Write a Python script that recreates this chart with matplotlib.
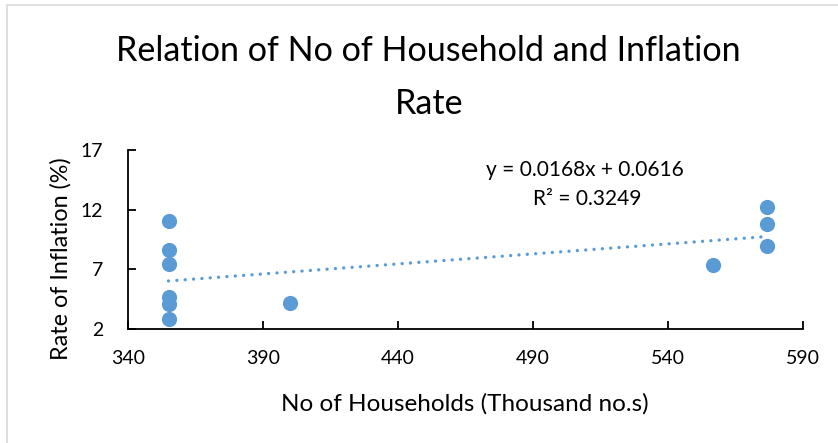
import numpy as np
import matplotlib
matplotlib.use("Agg")
import matplotlib.pyplot as plt
from matplotlib.patches import Rectangle

# values
households = [355, 355, 355, 355, 355, 355, 400, 556.5, 576.5, 576.5, 576.5]
inflation = [11.05, 8.64, 7.41, 4.64, 4.13, 2.87, 4.18, 7.35, 12.2, 10.8, 8.92]
slope, intercept = 0.0168, 0.0616
r_squared = 0.3249
x_ticks = [340, 390, 440, 490, 540, 590]
y_ticks = [2, 7, 12, 17]

blue = '#5B9BD5'
plt.rcParams['font.family'] = ['Lato', 'DejaVu Sans']

W, H = 838, 443
fig = plt.figure(figsize=(W/100, H/100), dpi=100)
ax = fig.add_axes([128/W, 1-329/H, (803-128)/W, (329-150)/H])

# chart area border (light grey), as in the Excel export
fig.add_artist(Rectangle((7/W, -0.05), 1.1, 1-5/H+0.05, transform=fig.transFigure,
                         fill=False, edgecolor='#D9D9D9', linewidth=1.2))

ax.scatter(households, inflation, s=120, color=blue, zorder=3, linewidths=0)

xs = np.array([min(households), max(households)])
ax.plot(xs, slope*xs + intercept, color=blue, lw=2.4, linestyle=(0, (0.01, 2.5)),
        dash_capstyle='round', zorder=2)

ax.set_xlim(340, 590)
ax.set_ylim(2, 17)
ax.set_xticks(x_ticks)
ax.set_yticks(y_ticks)
for s in ['top', 'right']:
    ax.spines[s].set_visible(False)
for s in ['left', 'bottom']:
    ax.spines[s].set_color('black')
    ax.spines[s].set_linewidth(1.3)
ax.tick_params(direction='in', length=6, width=1.3, labelsize=14)
ax.tick_params(axis='x', pad=15)
ax.tick_params(axis='y', pad=18)

ax.set_xlabel('No of Households (Thousand no.s)', fontsize=17.5)
ax.xaxis.set_label_coords((465-128)/675, (329-411)/179)
ax.xaxis.label.set_va('baseline')
ax.set_ylabel('Rate of Inflation (%)', fontsize=16.8)
ax.yaxis.set_label_coords((61-128)/675, (329-259)/179)
ax.yaxis.label.set_va('center')

fig.text(428/W, 1-61/H, 'Relation of No of Household and Inflation', fontsize=24.6,
         ha='center', va='baseline')
fig.text(429/W, 1-114/H, 'Rate', fontsize=24.6, ha='center', va='baseline')

fig.text(585/W, 1-176/H, 'y = 0.0168x + 0.0616', fontsize=15,
         ha='center', va='baseline')
fig.text(587.5/W, 1-205/H, 'R\u00b2 = {:.4f}'.format(r_squared), fontsize=15,
         ha='center', va='baseline')

fig.savefig('out.png', dpi=100)
